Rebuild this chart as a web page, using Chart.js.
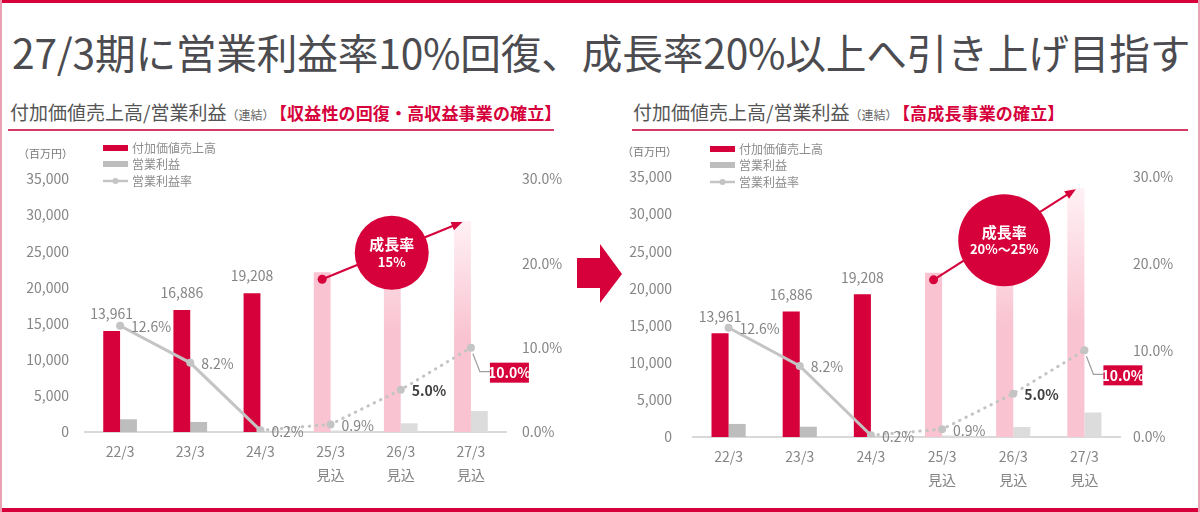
<!DOCTYPE html>
<html lang="ja">
<head>
<meta charset="utf-8">
<script src="https://cdn.jsdelivr.net/npm/chart.js@4.4.0/dist/chart.umd.min.js"></script>
<style>
  body { margin: 0; background: #fff; font-family: "Noto Sans CJK JP", "Noto Sans", sans-serif; }
  #slide { position: relative; width: 1200px; height: 512px; overflow: hidden; background: #fff; }
  .frame-top { position: absolute; left: 0; top: 0; width: 1200px; height: 3px; background: #d6003b; }
  .frame-bottom { position: absolute; left: 0; top: 508px; width: 1200px; height: 4px; background: #d6003b; }
  .frame-left { position: absolute; left: 0; top: 0; width: 2px; height: 512px; background: #eaa0b4; }
  .frame-right { position: absolute; right: 0; top: 0; width: 2px; height: 512px; background: #eaa0b4; }
  #title { position: absolute; left: 12px; top: 23px; font-size: 40.7px; line-height: 58px; color: #4b4b50; white-space: nowrap; letter-spacing: -0.2px; }
  .sub { position: absolute; top: 98px; white-space: nowrap; color: #555; font-size: 19px; line-height: 28px; }
  .sub .small { font-size: 12px; color: #666; margin-right: 4px; }
  .sub .red { font-size: 17px; font-weight: bold; color: #d6003b; letter-spacing: 0.15px; }
  .rule { position: absolute; top: 129px; height: 2px; background: #d43a64; }
  canvas { position: absolute; }
  #arrow { position: absolute; left: 570px; top: 240px; }
</style>
</head>
<body>
<div id="slide">
  <div class="frame-top"></div>
  <div class="frame-bottom"></div>
  <div class="frame-left"></div>
  <div class="frame-right"></div>
  <div id="title">27/3期に営業利益率10%回復、成長率20%以上へ引き上げ目指す</div>

  <div class="sub" style="left:10px">付加価値売上高/営業利益<span class="small">（連結）</span><span class="red">【収益性の回復・高収益事業の確立】</span></div>
  <div class="rule" style="left:8px; width:546px"></div>
  <div class="sub" style="left:633px">付加価値売上高/営業利益<span class="small">（連結）</span><span class="red">【高成長事業の確立】</span></div>
  <div class="rule" style="left:632px; width:556px"></div>

  <canvas id="left" width="575" height="375" style="left:0; top:135px"></canvas>
  <canvas id="right" width="600" height="375" style="left:600px; top:135px"></canvas>

  <svg id="arrow" width="60" height="70">
    <polygon points="7,18 30,18 30,4 52,34 30,63 30,48 7,48" fill="#d6003b"/>
  </svg>
</div>

<script>
// カテゴリ
var categories = [["22/3"], ["23/3"], ["24/3"], ["25/3", "見込"], ["26/3", "見込"], ["27/3", "見込"]];

// 左：収益性の回復・高収益事業の確立
var salesLeft = [13961, 16886, 19208, 22100, 25400, 29200];
var profitLeft = [1760, 1385, 38, 199, 1200, 2900];
var marginLeft = [12.6, 8.2, 0.2, 0.9, 5.0, 10.0];

// 右：高成長事業の確立
var salesRight = [13961, 16886, 19208, 22100, 27000, 33500];
var profitRight = [1760, 1385, 38, 199, 1350, 3300];
var marginRight = [12.6, 8.2, 0.2, 0.9, 5.0, 10.0];

// 軸
var salesTicks = [0, 5000, 10000, 15000, 20000, 25000, 30000, 35000];
var rateTicks = [0, 10, 20, 30];

var RED = "#d6003b";
var PINK = "#f9c3d1";
var GRAY = "#bdbdbd";
var GRAY_LIGHT = "#dcdcdc";
var TEXT = "#858585";
var FONT = '"Noto Sans CJK JP", "Noto Sans", sans-serif';

Chart.defaults.font.family = FONT;

function salesColor(ctx) {
  var i = ctx.dataIndex;
  if (i < 3) return RED;
  if (i === 3) return PINK;
  var chart = ctx.chart;
  if (!chart.chartArea) return PINK;
  var y = chart.scales.y;
  var bot = y.getPixelForValue(0);
  var top = y.getPixelForValue(ctx.raw);
  var g = chart.ctx.createLinearGradient(0, bot, 0, top);
  g.addColorStop(0, PINK);
  g.addColorStop(i === 4 ? 0.55 : 0.45, PINK);
  g.addColorStop(1, i === 4 ? "#fde4eb" : "#fff1f5");
  return g;
}

function profitColor(ctx) {
  return ctx.dataIndex < 3 ? GRAY : GRAY_LIGHT;
}

function fmt(v) {
  return v.toLocaleString("en-US");
}

// 凡例・ラベル・成長率バブル
var overlay = {
  id: "overlay",
  afterDatasetsDraw: function (chart) {
    var o = chart.options.plugins.overlay;
    var c = chart.ctx;
    var area = chart.chartArea;
    var bars = chart.getDatasetMeta(1).data;
    var pts = chart.getDatasetMeta(0).data;
    var sales = chart.data.datasets[1].data;
    var rates = chart.data.datasets[0].data;
    c.save();

    // 売上ラベル（実績）
    c.font = "14px " + FONT;
    c.fillStyle = TEXT;
    c.textAlign = "center";
    c.textBaseline = "middle";
    for (var i = 0; i < 3; i++) {
      c.fillText(fmt(sales[i]), bars[i].x, bars[i].y - 17);
    }

    // 営業利益率ラベル
    c.textAlign = "left";
    for (var j = 0; j < 5; j++) {
      if (j === 4) {
        c.font = "bold 14px " + FONT;
        c.fillStyle = "#3f3f3f";
      } else {
        c.font = "14px " + FONT;
        c.fillStyle = TEXT;
      }
      c.fillText(rates[j].toFixed(1) + "%", pts[j].x + 11, pts[j].y + 1);
    }
    var p = pts[5];
    c.strokeStyle = "#9e9e9e";
    c.lineWidth = 1.2;
    c.beginPath();
    c.moveTo(p.x + 2, p.y + 6);
    c.lineTo(p.x + 9, p.y + 24);
    c.lineTo(p.x + 19, p.y + 24);
    c.stroke();
    c.fillStyle = RED;
    c.fillRect(p.x + 19, p.y + 15, 39, 20);
    c.font = "bold 14px " + FONT;
    c.fillStyle = "#fff";
    c.textAlign = "center";
    c.fillText(rates[5].toFixed(1) + "%", p.x + 38.5, p.y + 25.5);

    // 成長率矢印
    var a = bars[3], b = bars[5];
    var x0 = a.x, y0 = a.y + 7, x1 = b.x, y1 = b.y + 1;
    var ang = Math.atan2(y1 - y0, x1 - x0);
    c.strokeStyle = RED;
    c.fillStyle = RED;
    c.lineWidth = 2;
    c.beginPath();
    c.moveTo(x0, y0);
    c.lineTo(x1 - 8 * Math.cos(ang), y1 - 8 * Math.sin(ang));
    c.stroke();
    c.beginPath();
    c.moveTo(x1, y1);
    c.lineTo(x1 - 11 * Math.cos(ang) + 4.5 * Math.sin(ang), y1 - 11 * Math.sin(ang) - 4.5 * Math.cos(ang));
    c.lineTo(x1 - 11 * Math.cos(ang) - 4.5 * Math.sin(ang), y1 - 11 * Math.sin(ang) + 4.5 * Math.cos(ang));
    c.closePath();
    c.fill();
    c.beginPath();
    c.arc(x0, y0, 4.5, 0, Math.PI * 2);
    c.fill();

    var cx = chart.scales.x.getPixelForValue(4) + o.bubbleDx;
    var cy = chart.scales.y.getPixelForValue(o.bubbleAt);
    c.beginPath();
    c.arc(cx, cy, o.bubbleR, 0, Math.PI * 2);
    c.fill();
    c.fillStyle = "#fff";
    c.textAlign = "center";
    c.font = "bold 15px " + FONT;
    c.fillText("成長率", cx, cy - 8);
    c.font = "bold 13px " + FONT;
    c.fillText(o.growth, cx, cy + 9);

    // 凡例
    var lx = area.left + o.legendDx;
    var ly = area.top + o.legendDy;
    c.fillStyle = RED;
    c.fillRect(lx, ly - 3, 25, 6);
    c.fillStyle = GRAY;
    c.fillRect(lx, ly + 13, 25, 6);
    c.strokeStyle = "#c4c4c4";
    c.lineWidth = 2.5;
    c.beginPath();
    c.moveTo(lx, ly + 33);
    c.lineTo(lx + 25, ly + 33);
    c.stroke();
    c.fillStyle = "#c4c4c4";
    c.beginPath();
    c.arc(lx + 12.5, ly + 33, 3, 0, Math.PI * 2);
    c.fill();
    c.font = "12px " + FONT;
    c.fillStyle = "#8c8c8c";
    c.textAlign = "left";
    c.fillText("付加価値売上高", lx + 29, ly);
    c.fillText("営業利益", lx + 29, ly + 16);
    c.fillText("営業利益率", lx + 29, ly + 33);

    c.font = "11px " + FONT;
    c.fillStyle = "#777";
    c.textAlign = "right";
    c.fillText("（百万円）", area.left - o.unitDx, area.top - 25);
    c.restore();
  }
};

function makeChart(id, sales, profit, margin, lay, extra) {
  return new Chart(document.getElementById(id), {
    type: "bar",
    data: {
      labels: categories,
      datasets: [
        {
          type: "line",
          label: "営業利益率",
          data: margin,
          yAxisID: "y2",
          order: 0,
          borderColor: "#c4c4c4",
          borderWidth: 3,
          borderCapStyle: "round",
          tension: 0,
          pointRadius: 4,
          pointBorderWidth: 0,
          pointBackgroundColor: "#c4c4c4",
          segment: {
            borderDash: function (s) { return s.p0DataIndex >= 2 ? [0.5, 6.5] : undefined; }
          }
        },
        {
          label: "付加価値売上高",
          data: sales,
          yAxisID: "y",
          order: 1,
          backgroundColor: salesColor,
          categoryPercentage: 0.48,
          barPercentage: 1
        },
        {
          label: "営業利益",
          data: profit,
          yAxisID: "y",
          order: 1,
          backgroundColor: profitColor,
          categoryPercentage: 0.48,
          barPercentage: 1
        }
      ]
    },
    options: {
      responsive: false,
      animation: false,
      layout: { padding: { top: lay.top, left: 0, right: 0, bottom: 0 } },
      plugins: {
        legend: { display: false },
        tooltip: { enabled: false },
        overlay: extra
      },
      scales: {
        x: {
          grid: { display: false },
          border: { color: "#d9d9d9", width: 2 },
          ticks: { color: TEXT, font: { size: 14, lineHeight: 1.65 }, padding: 0 },
          afterFit: function (s) { s.height = lay.xh; }
        },
        y: {
          position: "left",
          min: 0,
          max: salesTicks[salesTicks.length - 1],
          grid: { display: false },
          border: { display: false },
          afterBuildTicks: function (s) { s.ticks = salesTicks.map(function (v) { return { value: v }; }); },
          ticks: { color: TEXT, font: { size: 14 }, padding: lay.yPad, callback: function (v) { return fmt(v); } },
          afterFit: function (s) { s.width = lay.yw; }
        },
        y2: {
          position: "right",
          min: 0,
          max: rateTicks[rateTicks.length - 1],
          grid: { display: false },
          border: { display: false },
          afterBuildTicks: function (s) { s.ticks = rateTicks.map(function (v) { return { value: v }; }); },
          ticks: { color: TEXT, font: { size: 14 }, padding: lay.y2Pad, callback: function (v) { return v.toFixed(1) + "%"; } },
          afterFit: function (s) { s.width = lay.y2w; }
        }
      }
    },
    plugins: [overlay]
  });
}

makeChart("left", salesLeft, profitLeft, marginLeft,
  { top: 44, xh: 78, yw: 85, yPad: 8, y2w: 69, y2Pad: 8 },
  { bubbleDx: -9, bubbleAt: 24800, bubbleR: 37, growth: "15%", legendDx: 18, legendDy: -31, unitDx: 12 });

makeChart("right", salesRight, profitRight, marginRight,
  { top: 42, xh: 73, yw: 93, yPad: 13, y2w: 80, y2Pad: 5 },
  { bubbleDx: -9, bubbleAt: 26500, bubbleR: 46, growth: "20%〜25%", legendDx: 17, legendDy: -28, unitDx: 16 });
</script>
</body>
</html>
